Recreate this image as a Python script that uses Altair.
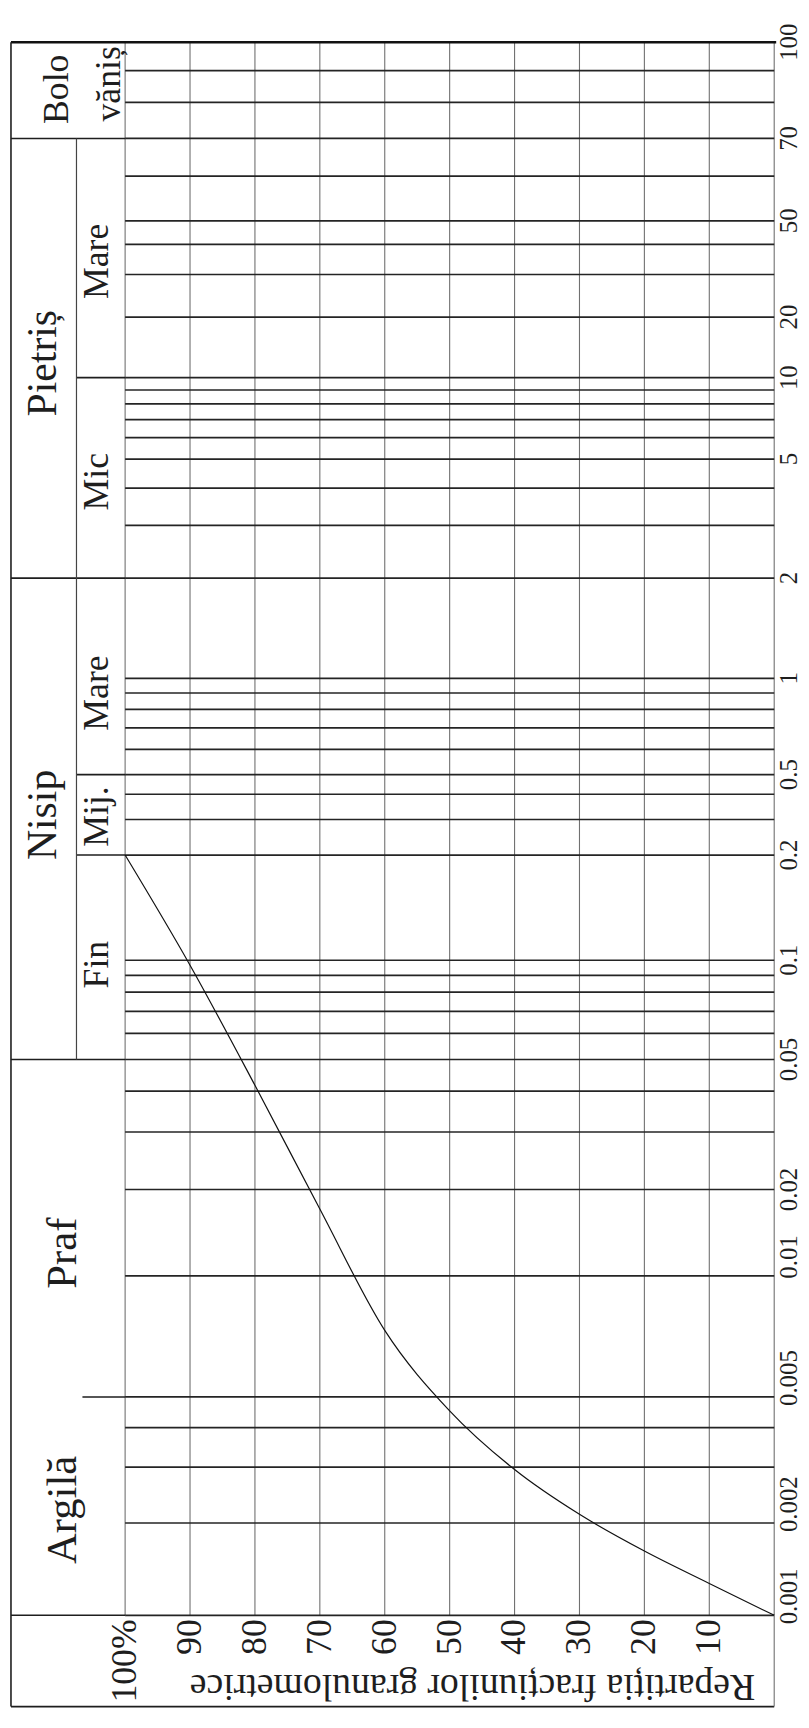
import altair as alt
import pandas as pd

# ---------------- data ----------------
# labelled grain sizes (mm) of the vertical axis and their printed labels
size_ticks = [0.001, 0.002, 0.005, 0.01, 0.02, 0.05, 0.1, 0.2, 0.5, 1, 2, 5, 10, 20, 50, 70, 100]
size_labels = ["0.001", "0.002", "0.005", "0.01", "0.02", "0.05", "0.1", "0.2", "0.5", "1",
               "2", "5", "10", "20", "50", "70", "100"]
# every sieve line drawn across the sheet (mm)
sieve_sizes = [100, 90, 80, 70, 60, 50, 40, 30, 20, 10, 9, 8, 7, 6, 5, 4, 3, 2,
               1, 0.9, 0.8, 0.7, 0.6, 0.5, 0.4, 0.3, 0.2,
               0.1, 0.09, 0.08, 0.07, 0.06, 0.05, 0.04, 0.03, 0.02,
               0.01, 0.005, 0.004, 0.003, 0.002, 0.001]
# percentage grid and labels
percent_grid = [0, 10, 20, 30, 40, 50, 60, 70, 80, 90, 100]
percent_ticks = [10, 20, 30, 40, 50, 60, 70, 80, 90, 100]
percent_labels = ["10", "20", "30", "40", "50", "60", "70", "80", "90", "100%"]
# granulometric curve (grain size in mm at each 10 %)
curve_size = [0.001, 0.00127, 0.00162, 0.00213, 0.00295, 0.00452, 0.00732,
              0.0171, 0.0417, 0.0966, 0.2]
curve_pct = [0, 10, 20, 30, 40, 50, 60, 70, 80, 90, 100]
# fraction table (header)
main_names = ["Pietriș", "Nisip"]
main_at = [11.8, 0.316]
wide_names = ["Praf", "Argilă"]
wide_at = [0.012, 0.0022]
bolo_names = ["Bolo", "văniș"]
bolo_at = [84, 85.7]
sub_names = ["Mare", "Mic", "Mare", "Mij.", "Fin"]
sub_at = [34, 4.2, 0.9, 0.31, 0.097]
outer_bounds = [70, 2, 0.05, 0.001]
clay_bounds = [0.005]
inner_bounds = [10, 0.5, 0.2]
inner_span = [70, 0.05]
title_text = "Repartiția fracțiunilor granulometrice"

# ---------------- layout ----------------
W, H = 654, 1585
BOTTOM = 1677
HDR_L, HDR_IN, HDR_CLAY = -115, -49, -43
SERIF = "Liberation Serif"
INK = "#1e1e1e"
GRID = "#707070"

# piecewise log scale of the printed sheet (tick -> pixel)
Y_RANGE = [1585, 1492, 1365, 1243, 1156, 1025, 925, 819, 738, 641, 540, 420, 338, 277, 180, 97, 0]
yscale = alt.Scale(type="log", domain=size_ticks, range=Y_RANGE, nice=False)
xscale = alt.Scale(domain=[0, 100], range=[W, 0], nice=False, zero=False)


def Ysz(field):
    return alt.Y(field, type="quantitative", scale=yscale, axis=None)


def Xpc(field):
    return alt.X(field, type="quantitative", scale=xscale, axis=None)


df_pct = pd.DataFrame({"pct": percent_grid, "top": max(size_ticks), "bot": min(size_ticks)})
df_sieve = pd.DataFrame({"mm": sieve_sizes, "left": 100, "right": 0})
df_curve = pd.DataFrame({"mm": curve_size, "pct": curve_pct})

pct_lines = alt.Chart(df_pct).mark_rule(color=GRID, strokeWidth=1.1).encode(
    x=Xpc("pct"), y=Ysz("top"), y2="bot:Q")

sieve_lines = alt.Chart(df_sieve).mark_rule(color="#242424", strokeWidth=1.7).encode(
    y=Ysz("mm"), x=Xpc("left"), x2="right:Q")


def hsep(values, x0):
    return alt.Chart(pd.DataFrame({"mm": values})).mark_rule(color=INK, strokeWidth=1.6).encode(
        y=Ysz("mm"), x=alt.value(x0), x2=alt.value(0))


outer_sep = hsep(outer_bounds, HDR_L)
clay_sep = hsep(clay_bounds, HDR_CLAY)
inner_sep = hsep(inner_bounds, HDR_IN)

inner_col = alt.Chart(pd.DataFrame({"a": [inner_span[0]], "b": [inner_span[1]]})).mark_rule(
    color="#444444", strokeWidth=1.2).encode(
    x=alt.value(HDR_IN), y=Ysz("a"), y2="b:Q")

top_line = alt.Chart(pd.DataFrame({"mm": [max(size_ticks)]})).mark_rule(
    color="#111111", strokeWidth=2.6).encode(
    y=Ysz("mm"), x=alt.value(HDR_L), x2=alt.value(W + 2))

one = pd.DataFrame({"a": [0]})
left_border = alt.Chart(one).mark_rule(color=INK, strokeWidth=1.6).encode(
    x=alt.value(HDR_L), y=alt.value(0), y2=alt.value(BOTTOM))
bottom_border = alt.Chart(one).mark_rule(color=INK, strokeWidth=1.6).encode(
    y=alt.value(BOTTOM), x=alt.value(HDR_L), x2=alt.value(W))
right_box = alt.Chart(one).mark_rule(color=GRID, strokeWidth=1.1).encode(
    x=alt.value(W), y=alt.value(H), y2=alt.value(BOTTOM))

curve = alt.Chart(df_curve).mark_line(color="#111111", strokeWidth=1.2, interpolate="monotone").encode(
    x=Xpc("pct"), y=Ysz("mm"), order="pct:Q")

# tick labels of the grain-size scale (right side, rotated)
df_sl = pd.DataFrame({"mm": size_ticks, "lab": size_labels})
size_lab_hi = alt.Chart(df_sl).transform_filter("datum.mm > 0.01").mark_text(
    angle=270, align="center", baseline="top", font=SERIF, fontSize=25, color=INK).encode(
    y=Ysz("mm"), x=alt.value(W + 3), text="lab:N")
size_lab_lo = alt.Chart(df_sl).transform_filter("datum.mm <= 0.01").mark_text(
    angle=270, align="center", baseline="top", font=SERIF, fontSize=25, color=INK, dx=19).encode(
    y=Ysz("mm"), x=alt.value(W + 3), text="lab:N")

# percentage labels (bottom, rotated)
df_pl = pd.DataFrame({"pct": percent_ticks, "lab": percent_labels})
pct_lab = alt.Chart(df_pl).mark_text(
    angle=270, align="right", baseline="middle", font=SERIF, fontSize=36, color=INK).encode(
    x=Xpc("pct"), y=alt.value(H + 4), text="lab:N")


def labels(names, at, xpix, size):
    return alt.Chart(pd.DataFrame({"name": names, "mm": at})).mark_text(
        angle=270, align="center", baseline="middle", font=SERIF, fontSize=size, color=INK).encode(
        y=Ysz("mm"), x=alt.value(xpix), text="name:N")


main_txt = labels(main_names, main_at, -83, 42)
wide_txt = labels(wide_names, wide_at, -62, 43)
bolo_txt1 = labels(bolo_names[:1], bolo_at[:1], -69, 36)
bolo_txt2 = labels(bolo_names[1:], bolo_at[1:], -16, 36)
sub_txt = labels(sub_names, sub_at, -28, 36)

title = alt.Chart(pd.DataFrame({"t": [title_text]})).mark_text(
    angle=180, align="center", baseline="middle", font=SERIF, fontSize=38, color=INK).encode(
    text="t:N", x=alt.value(350), y=alt.value(1656))

chart = alt.layer(
    pct_lines, sieve_lines, outer_sep, clay_sep, inner_sep, inner_col, top_line,
    left_border, bottom_border, right_box, curve,
    size_lab_hi, size_lab_lo, pct_lab,
    main_txt, wide_txt, bolo_txt1, bolo_txt2, sub_txt, title
).properties(
    width=W, height=H,
    autosize=alt.AutoSizeParams(type="none"),
    padding={"left": 118, "top": 28, "right": 27, "bottom": 93},
    background="white"
).configure_view(strokeWidth=0)

chart.save("out.html", embed_options={"renderer": "svg", "actions": False})
